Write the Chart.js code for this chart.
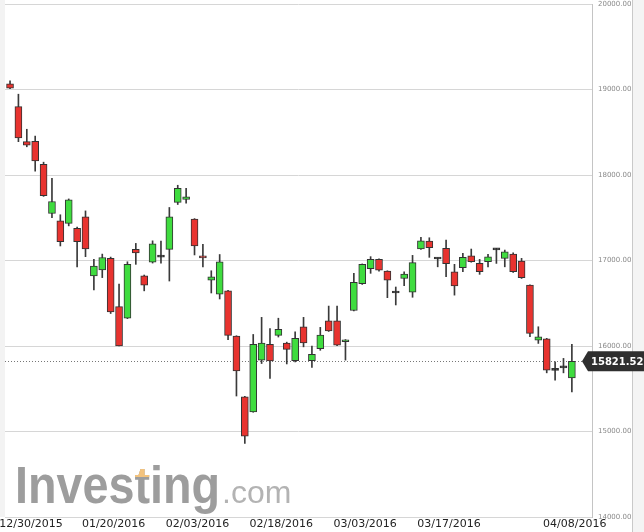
<!DOCTYPE html>
<html>
<head>
<meta charset="utf-8">
<script src="https://cdn.jsdelivr.net/npm/chart.js@4.4.1/dist/chart.umd.min.js"></script>
<style>
  html, body { margin: 0; padding: 0; background: #fff; }
  canvas { display: block; }
</style>
</head>
<body>
<canvas id="candles" width="644" height="532"></canvas>
<script>
// Nikkei 225 daily candles, 12/30/2015 - 04/08/2016
const dates = [
  "12/30/2015", "01/04/2016", "01/05/2016", "01/06/2016", "01/07/2016", "01/08/2016", "01/12/2016", "01/13/2016",
  "01/14/2016", "01/15/2016", "01/18/2016", "01/19/2016", "01/20/2016", "01/21/2016", "01/22/2016", "01/25/2016",
  "01/26/2016", "01/27/2016", "01/28/2016", "01/29/2016", "02/01/2016", "02/02/2016", "02/03/2016", "02/04/2016",
  "02/05/2016", "02/08/2016", "02/09/2016", "02/10/2016", "02/12/2016", "02/15/2016", "02/16/2016", "02/17/2016",
  "02/18/2016", "02/19/2016", "02/22/2016", "02/23/2016", "02/24/2016", "02/25/2016", "02/26/2016", "02/29/2016",
  "03/01/2016", "03/02/2016", "03/03/2016", "03/04/2016", "03/07/2016", "03/08/2016", "03/09/2016", "03/10/2016",
  "03/11/2016", "03/14/2016", "03/15/2016", "03/16/2016", "03/17/2016", "03/18/2016", "03/22/2016", "03/23/2016",
  "03/24/2016", "03/25/2016", "03/28/2016", "03/29/2016", "03/30/2016", "03/31/2016", "04/01/2016", "04/04/2016",
  "04/05/2016", "04/06/2016", "04/07/2016", "04/08/2016",
];
const opens = [
  19065, 18800, 18390, 18395, 18125, 17550, 17465, 17435, 17375, 17510, 16820, 16890, 17025, 16460, 16325, 17130,
  16820, 16980, 17043, 17130, 17680, 17715, 17485, 17055, 16770, 16605, 16645, 16115, 15405, 15230, 15835, 16020,
  16125, 16035, 15827, 16225, 15827, 15970, 16295, 16295, 16050, 16415, 16730, 16905, 17015, 16875, 16630, 16790,
  16630, 17135, 17227, 17022, 17142, 16868, 16915, 17055, 16966, 16985, 17128, 17025, 17075, 16993, 16712, 16069,
  16084, 15718, 15745, 15628,
];
const highs = [
  19100, 18945, 18535, 18455, 18150, 17960, 17535, 17720, 17390, 17580, 17015, 17075, 17040, 16725, 16985, 17200,
  16830, 17230, 17227, 17620, 17880, 17845, 17490, 17190, 16880, 17070, 16650, 16120, 15410, 16135, 16335, 16205,
  16325, 16045, 16165, 16335, 16000, 16218, 16467, 16467, 16075, 16850, 16960, 17045, 17020, 16880, 16690, 16868,
  17060, 17270, 17266, 17032, 17240, 16955, 17083, 17134, 17013, 17071, 17142, 17122, 17090, 17025, 16715, 16225,
  16090, 15815, 15855, 16019,
];
const lows = [
  19010, 18390, 18330, 18045, 17750, 17500, 17170, 17405, 16925, 17045, 16655, 16800, 16380, 16000, 16320, 16955,
  16645, 16970, 16970, 16760, 17655, 17670, 17065, 16925, 16620, 16550, 16075, 15415, 14860, 15225, 15795, 15620,
  16105, 15790, 15815, 15990, 15750, 15950, 16170, 16005, 15835, 16410, 16720, 16850, 16875, 16565, 16480, 16705,
  16570, 17130, 17037, 16926, 16810, 16595, 16868, 16980, 16838, 16926, 16966, 16926, 16860, 16790, 16108, 16030,
  15686, 15600, 15686, 15464,
];
const closes = [
  19015, 18435, 18350, 18165, 17757, 17690, 17220, 17710, 17220, 17135, 16935, 17035, 16400, 16002, 16955, 17090,
  16712, 17195, 17040, 17510, 17845, 17745, 17170, 17030, 16810, 16985, 16125, 15710, 14945, 16020, 16035, 15825,
  16195, 15960, 16090, 16037, 15902, 16127, 16176, 16010, 16070, 16745, 16955, 17015, 16888, 16770, 16620, 16840,
  16975, 17230, 17150, 17018, 16962, 16704, 17036, 16985, 16868, 17043, 17125, 17102, 16868, 16798, 16147, 16108,
  15718, 15715, 15748, 15821.52,
];
const tickAt = [0, 12, 22, 32, 42, 52, 67];
const lastPrice = 15821.52;

const upColor = "#3fdc3f";
const downColor = "#e8332f";
const dojiColor = "#222222";

const wicks = lows.map((l, i) => ({ x: i, y: [l, highs[i]] }));
const bodies = opens.map((o, i) => ({ x: i, y: [o, closes[i]] }));
const bodyColors = opens.map((o, i) => {
  const d = closes[i] - o;
  if (Math.abs(d) < 12) return dojiColor;
  return d > 0 ? upColor : downColor;
});

// background bands, watermark, last-price line and tag
const decorations = {
  id: "decorations",
  beforeDraw(chart) {
    const { ctx, chartArea } = chart;
    ctx.save();
    ctx.fillStyle = "#f3f3f3";
    ctx.fillRect(0, 0, chartArea.left, chartArea.bottom);
    ctx.fillStyle = "#f4f4f4";
    ctx.fillRect(633, 0, 11, 532);
    ctx.strokeStyle = "#c9c9c9";
    ctx.lineWidth = 1;
    ctx.beginPath(); ctx.moveTo(632.5, 0); ctx.lineTo(632.5, 532); ctx.stroke();
    ctx.restore();
  },
  beforeDatasetsDraw(chart) {
    const { ctx, chartArea, scales } = chart;
    ctx.save();
    // watermark
    const baseY = 503, x0 = 15;
    ctx.font = "bold 51px 'Liberation Sans', Arial, sans-serif";
    const w = ctx.measureText("Investing").width;
    const sx = 205 / w;
    ctx.save();
    ctx.translate(x0, baseY);
    ctx.scale(sx, 1);
    ctx.fillStyle = "#9d9d9d";
    ctx.fillText("Investing", 0, 0);
    const tx = ctx.measureText("Inves").width;
    const tw = ctx.measureText("t").width;
    ctx.beginPath();
    ctx.rect(tx, -40, tw, 14);
    ctx.clip();
    ctx.fillStyle = "#f3c37e";
    ctx.fillText("Investing", 0, 0);
    ctx.restore();
    ctx.font = "32px 'Liberation Sans', Arial, sans-serif";
    ctx.fillStyle = "#b3b3b3";
    ctx.fillText(".com", x0 + 207, baseY);
    // last price dotted line
    const py = Math.round(scales.y.getPixelForValue(lastPrice)) + 0.5;
    ctx.strokeStyle = "#777";
    ctx.lineWidth = 1;
    ctx.setLineDash([1, 2]);
    ctx.beginPath();
    ctx.moveTo(chartArea.left, py);
    ctx.lineTo(chartArea.right, py);
    ctx.stroke();
    ctx.restore();
  },
  afterDraw(chart) {
    const { ctx, scales } = chart;
    const py = scales.y.getPixelForValue(lastPrice);
    ctx.save();
    ctx.fillStyle = "#2f2f2f";
    ctx.beginPath();
    ctx.moveTo(582, py);
    ctx.lineTo(588, py - 10);
    ctx.lineTo(644, py - 10);
    ctx.lineTo(644, py + 10);
    ctx.lineTo(588, py + 10);
    ctx.closePath();
    ctx.fill();
    ctx.fillStyle = "#ffffff";
    ctx.font = "bold 10px 'DejaVu Sans', sans-serif";
    ctx.textBaseline = "middle";
    ctx.fillText(lastPrice.toFixed(2), 591, py + 1);
    ctx.restore();
  },
};

new Chart(document.getElementById("candles"), {
  type: "bar",
  data: {
    datasets: [
      { label: "Body", data: bodies, backgroundColor: bodyColors, borderColor: "#333", borderWidth: 1,
        borderSkipped: false, barThickness: 7, minBarLength: 2, grouped: false, order: 1 },
      { label: "Wick", data: wicks, backgroundColor: "#3a3a3a", borderWidth: 0,
        barThickness: 1, grouped: false, order: 2 },
    ],
  },
  options: {
    responsive: false,
    animation: false,
    devicePixelRatio: 1,
    layout: { padding: { left: 5, right: 0, top: 0, bottom: 0 } },
    plugins: { legend: { display: false }, tooltip: { enabled: false } },
    scales: {
      x: {
        type: "linear",
        min: -0.6,
        max: 69.4,
        offset: false,
        grid: { display: false, drawTicks: false },
        border: { display: false },
        afterBuildTicks: (scale) => {
          // labels sit a little right of their candle; the first one is kept inside the canvas
          scale.ticks = tickAt.map((i) => ({ value: Math.max(i + 0.35, 2.5), label: dates[i] }));
        },
        afterFit: (scale) => { scale.height = 15; scale.paddingLeft = 0; scale.paddingRight = 0; },
        ticks: {
          autoSkip: false,
          maxRotation: 0,
          padding: 1,
          color: "#222",
          font: { family: "'DejaVu Sans', sans-serif", size: 11 },
          callback: function (value) {
            const t = this.ticks.find((tk) => tk.value === value);
            return t ? t.label : "";
          },
        },
      },
      y: {
        position: "right",
        min: 14000,
        max: 20000,
        grid: { color: "#d6d6d6", lineWidth: 1, drawTicks: false },
        border: { display: true, color: "#c4c4c4" },
        afterFit: (scale) => { scale.width = 52; scale.paddingTop = 4; scale.paddingBottom = 0; },
        ticks: {
          stepSize: 1000,
          padding: 6,
          color: "#8a8a8a",
          font: { family: "'DejaVu Sans', sans-serif", size: 7 },
          callback: (v) => Number(v).toFixed(2),
        },
      },
    },
  },
  plugins: [decorations],
});
</script>
</body>
</html>
